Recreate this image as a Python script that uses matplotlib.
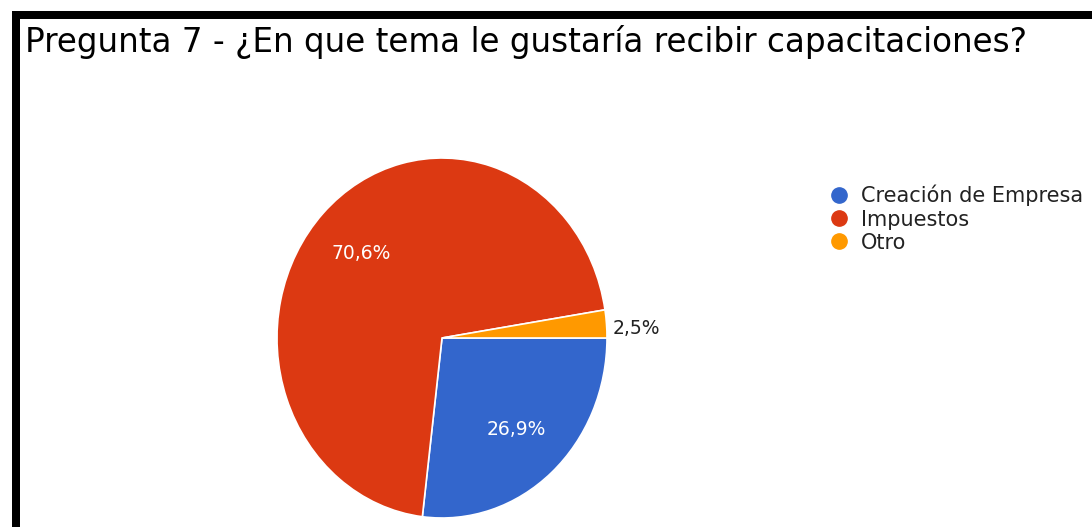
import matplotlib.pyplot as plt
from matplotlib.lines import Line2D
from matplotlib.patches import Rectangle

# survey answers (share of respondents, %)
labels = ["Creación de Empresa", "Impuestos", "Otro"]
values = [26.9, 70.6, 2.5]
colors = ["#3366cc", "#dc3912", "#ff9900"]
title = "Pregunta 7 - ¿En que tema le gustaría recibir capacitaciones?"

W, H = 1092, 527
fig = plt.figure(figsize=(W / 100, H / 100), dpi=100)
fig.patch.set_facecolor("white")

# black frame (top and left only, as in the screenshot)
fig.add_artist(Rectangle((12 / W, 0), 8 / W, (H - 11) / H, transform=fig.transFigure,
                         color="black", lw=0))
fig.add_artist(Rectangle((12 / W, (H - 19) / H), (W - 12) / W, 8 / H,
                         transform=fig.transFigure, color="black", lw=0))

fig.text(25 / W, 1 - 52 / H, title, fontsize=23.5, family="DejaVu Sans",
         va="baseline", ha="left", color="black")

# pie is slightly stretched vertically in the original
cx, cy, rx, ry = 442, 338, 165, 180
ax = fig.add_axes([(cx - rx) / W, (H - cy - ry) / H, 2 * rx / W, 2 * ry / H])
wedges, texts, autotexts = ax.pie(
    values, colors=colors, startangle=0, counterclock=False,
    autopct=lambda p: f"{p:.1f}%".replace(".", ","), pctdistance=0.68,
    wedgeprops=dict(edgecolor="white", linewidth=1.2),
    textprops=dict(color="white", fontsize=13.5, family="DejaVu Sans"))
ax.set_aspect("auto")
ax.set_xlim(-1, 1)
ax.set_ylim(-1, 1)
ax.axis("off")

# small slice gets its label outside, in black
small = autotexts[2]
x, y = small.get_position()
small.set_position((x / 0.68 * 1.04, y / 0.68 * 0.65))
small.set_color("#222222")
small.set_ha("left")

handles = [Line2D([], [], marker="o", ls="", markersize=11, markerfacecolor=c,
                  markeredgecolor=c) for c in colors]
fig.legend(handles, labels, loc="upper left", bbox_to_anchor=(830 / W, 1 - 185 / H),
           frameon=False, prop=dict(family="DejaVu Sans", size=15),
           handletextpad=0.62, labelspacing=0.15, borderaxespad=0, borderpad=0,
           handlelength=0.85, labelcolor="#222222")

fig.savefig("out.png", dpi=100)
